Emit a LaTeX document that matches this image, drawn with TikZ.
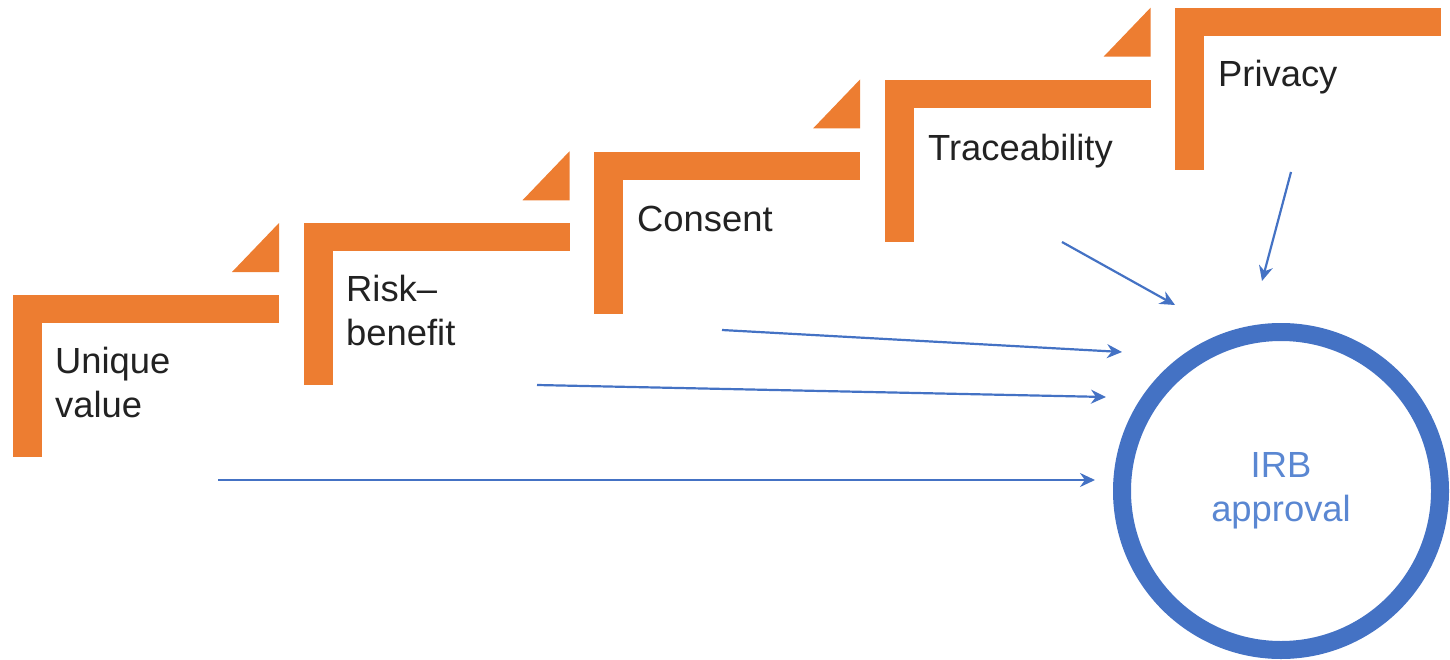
\documentclass[tikz,border=0pt]{standalone}
\usepackage{fontspec}
\setmainfont{Liberation Sans}
\usepackage{tikz}
\usetikzlibrary{arrows.meta,positioning}

\definecolor{steporange}{HTML}{ED7D31}
\definecolor{irbblue}{HTML}{4472C4}
\definecolor{irbtext}{HTML}{5A87D2}
\definecolor{labelgray}{HTML}{222222}

\begin{document}
\begin{tikzpicture}[
            x = 1bp, y = -1bp, % pixel-like units, y down
            > = {Stealth[length=15bp, width=14bp]}, % arrow head style
            stepbar/.style = {fill=steporange, draw=none},
            steplabel/.style = {anchor=base west, inner sep=0pt, align=left,
                text=labelgray, font=\fontsize{36.5}{44}\selectfont},
            feed/.style = {->, draw=irbblue, line width=2.2bp}
        ]

	\useasboundingbox (0,0) rectangle (1450,660);

	% the five steps
	\foreach \i in {0,...,4} {
		\begin{scope}[shift={(13+290.5*\i, 295-71.75*\i)}]
			\fill[stepbar] (0,0) rectangle (266,28);
			\fill[stepbar] (0,0) rectangle (29,162);
			\ifnum\i<4
				\fill[stepbar] (219,-23) -- (266,-72) -- (266,-23) -- cycle;
			\fi
		\end{scope}
	}

	% base is the last line of a label
	\node[steplabel] (uv) at (55,417) {Unique\\value};
	\node[steplabel] (rb) at (346,345) {Risk–\\benefit};
	\node[steplabel] (cs) at (637,231) {Consent};
	\node[steplabel] (tr) at (928,160) {Traceability};
	\node[steplabel] (pr) at (1218,87) {Privacy};

	% IRB approval
	\node[circle, draw=irbblue, line width=18bp, minimum size=318bp,
		text=irbtext, align=center, font=\fontsize{36.5}{44}\selectfont] (irb)
		at (1281,491) {IRB\\approval};

	% arrow ends
	\coordinate (uv-out) at (218,480);
	\coordinate (rb-out) at (537,385);
	\coordinate (cs-out) at (722,330);
	\coordinate (tr-out) at (1062,242);
	\coordinate (pr-out) at (1291,172);
	\coordinate (irb-uv) at (1095,480);
	\coordinate (irb-rb) at (1106,397);
	\coordinate (irb-cs) at (1122,352);
	\coordinate (irb-tr) at (1175,305);
	\coordinate (irb-pr) at (1262,281);

	\draw[feed] (uv-out) -- (irb-uv);
	\draw[feed] (rb-out) -- (irb-rb);
	\draw[feed] (cs-out) -- (irb-cs);
	\draw[feed] (tr-out) -- (irb-tr);
	\draw[feed] (pr-out) -- (irb-pr);

\end{tikzpicture}
\end{document}
